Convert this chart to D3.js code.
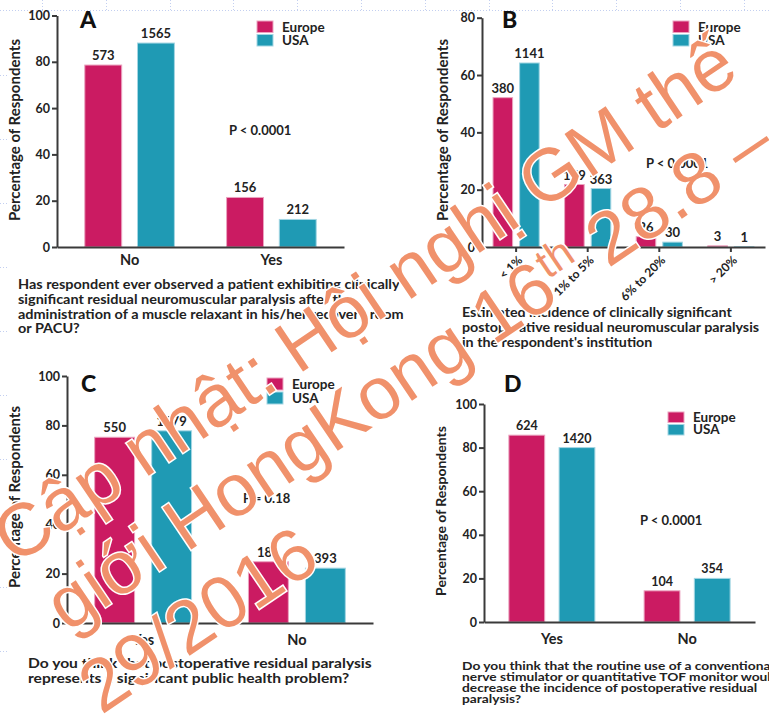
<!DOCTYPE html>
<html lang="en">
<head>
<meta charset="UTF-8">
<title>Residual neuromuscular paralysis survey</title>
<script src="https://d3js.org/d3.v7.min.js"></script>
<style>
  body { margin: 0; background: #ffffff; }
  svg text { font-family: Lato, "Open Sans", sans-serif; font-weight: bold; fill: #222; }
  .axis path, .axis line { stroke: #3a3a3a; stroke-width: 2; }
  .wm { font-family: "Liberation Sans", Arial, sans-serif; font-weight: normal; fill: #F0916B;
        stroke: #ffffff; stroke-width: 3; paint-order: stroke; }
</style>
</head>
<body>
<svg id="chart" width="769" height="715"></svg>
<script>
// data (percent of respondents, counts on top of bars)
const series = ["Europe", "USA"];
const colors = ["#CB1B62", "#1F9AB4"];
const edges = ["#EBA3BF", "#A3D6E3"];

const catsA = ["No", "Yes"];
const europeA = [78.6, 21.4];
const usaA = [88.1, 11.9];
const countsEuropeA = ["573", "156"];
const countsUsaA = ["1565", "212"];

const catsB = ["< 1%", "1% to 5%", "6% to 20%", "> 20%"];
const europeB = [52.1, 21.8, 3.6, 0.4];
const usaB = [64.2, 20.4, 1.7, 0.1];
const countsEuropeB = ["380", "159", "26", "3"];
const countsUsaB = ["1141", "363", "30", "1"];

const catsC = ["Yes", "No"];
const europeC = [75.2, 24.8];
const usaC = [77.8, 22.2];
const countsEuropeC = ["550", "181"];
const countsUsaC = ["1379", "393"];

const catsD = ["Yes", "No"];
const europeD = [85.7, 14.3];
const usaD = [80.0, 20.0];
const countsEuropeD = ["624", "104"];
const countsUsaD = ["1420", "354"];

const ticks100 = [0, 20, 40, 60, 80, 100];
const ticks80 = [0, 20, 40, 60, 80];

const captionA = ["Has respondent ever observed a patient exhibiting clinically",
  "significant residual neuromuscular paralysis after the",
  "administration of a muscle relaxant in his/her recovery room",
  "or PACU?"];
const captionB = ["Estimated incidence of clinically significant",
  "postoperative residual neuromuscular paralysis",
  "in the respondent's institution"];
const captionC = ["Do you think that postoperative residual paralysis",
  "represents a significant public health problem?"];
const captionD = ["Do you think that the routine use of a conventional",
  "nerve stimulator or quantitative TOF monitor would",
  "decrease the incidence of postoperative residual",
  "paralysis?"];

// watermark lines, split where the "th" is set as a superscript
const watermark = [
  [["Cập nhật: Hội nghị GM thế", false]],
  [["giới HongKong 16", false], ["th", true], [" 28.8 –", false]],
  [["29/2016", false]]
];

const svg = d3.select("#chart");

// faint slide guides in the background
const guides = svg.append("g").attr("stroke", "#C3CFF0").attr("stroke-width", 1).attr("stroke-dasharray", "1,2");
guides.append("line").attr("x1", 0).attr("x2", 769).attr("y1", 10.5).attr("y2", 10.5);
guides.selectAll(".gv").data(d3.range(42, 769, 63.8)).enter().append("line")
  .attr("x1", d => Math.round(d) + 0.5).attr("x2", d => Math.round(d) + 0.5).attr("y1", 0).attr("y2", 10);
guides.selectAll(".gh").data(d3.range(75, 715, 64)).enter().append("line")
  .attr("x1", 0).attr("x2", 8).attr("y1", d => d + 0.5).attr("y2", d => d + 0.5);

function panel(p) {
  const g = svg.append("g");
  const y = d3.scaleLinear().domain([0, p.ymax]).range([p.yb, p.yt]);
  const x0 = d3.scaleBand().domain(p.cats).range([p.xl, p.xr]).paddingInner(p.pi).paddingOuter(p.po);
  const x1 = d3.scaleBand().domain(series).range([0, x0.bandwidth()]).paddingInner(p.bi);

  const rows = p.cats.map((c, i) => ({
    cat: c,
    vals: [
      { s: 0, v: p.europe[i], n: p.nEurope[i] },
      { s: 1, v: p.usa[i], n: p.nUsa[i] }
    ]
  }));

  const grp = g.selectAll(".grp").data(rows).enter().append("g")
    .attr("transform", d => `translate(${x0(d.cat)},0)`);

  grp.selectAll("rect").data(d => d.vals).enter().append("rect")
    .attr("x", d => x1(series[d.s]))
    .attr("y", d => y(d.v))
    .attr("width", x1.bandwidth())
    .attr("height", d => y(0) - y(d.v))
    .attr("fill", d => colors[d.s])
    .attr("stroke", d => edges[d.s])
    .attr("stroke-width", 1);

  grp.selectAll(".n").data(d => d.vals).enter().append("text")
    .attr("x", d => x1(series[d.s]) + x1.bandwidth() / 2)
    .attr("y", d => y(d.v) - 5)
    .attr("text-anchor", "middle")
    .style("font-size", p.nSize + "px")
    .text(d => d.n);

  // y axis
  const ya = g.append("g").attr("class", "axis")
    .attr("transform", `translate(${p.xl},0)`)
    .call(d3.axisLeft(y).tickValues(p.ticks).tickSize(5).tickSizeOuter(0).tickPadding(2));
  ya.selectAll("text").style("font-size", "12.5px");
  ya.attr("font-family", null);

  // x axis
  const xa = g.append("g").attr("class", "axis")
    .attr("transform", `translate(0,${p.yb})`)
    .call(d3.axisBottom(x0).tickSize(p.rotate ? 5 : 0).tickSizeOuter(0));
  if (p.rotate) {
    xa.selectAll("text")
      .attr("y", 0).attr("dy", "0.35em")
      .attr("text-anchor", "end")
      .attr("transform", "translate(4,11) rotate(-45)")
      .style("font-size", "12px");
  } else {
    xa.selectAll("text").attr("y", p.xlabY).attr("dy", null).style("font-size", "14.5px");
  }
  xa.attr("font-family", null);

  // y title
  g.append("text")
    .attr("transform", `translate(${p.titleX},${p.titleY}) rotate(-90)`)
    .attr("text-anchor", "middle")
    .style("font-size", p.titleSize + "px")
    .text("Percentage of Respondents");

  // panel letter
  g.append("text").attr("x", p.letterX).attr("y", p.letterY)
    .style("font-size", "23px").style("font-weight", "900").style("fill", "#111")
    .text(p.letter);

  // legend
  const leg = g.selectAll(".leg").data(series).enter().append("g")
    .attr("transform", (d, i) => `translate(${p.legX},${p.legY + i * p.legStep})`);
  leg.append("rect").attr("width", 16).attr("height", p.legStep - 2)
    .attr("fill", (d, i) => colors[i]).attr("stroke", (d, i) => edges[i]);
  leg.append("text").attr("x", 25).attr("y", p.legStep - 3)
    .style("font-size", "13.5px").text(d => d);

  // p value
  g.append("text").attr("x", p.pX).attr("y", p.pY).style("font-size", "13px").text(p.pText);

  // caption, stretched sideways so the first line is as wide as on the slide
  const cap = g.append("text").style("font-size", p.capSize + "px");
  const spans = cap.selectAll("tspan").data(p.caption).enter().append("tspan")
    .attr("x", 0).attr("y", (d, i) => p.capY + i * p.capStep)
    .text(d => d);
  const sx = p.capW / spans.node().getComputedTextLength();
  cap.attr("transform", `translate(${p.capX},0) scale(${sx},1)`);
}

panel({
  cats: catsA, europe: europeA, usa: usaA, nEurope: countsEuropeA, nUsa: countsUsaA,
  ymax: 100, ticks: ticks100, xl: 57, xr: 344, yt: 15.5, yb: 247,
  pi: 0.368, po: 0.196, bi: 0.3, nSize: 13, xlabY: 18,
  titleX: 20, titleY: 130, titleSize: 15,
  letter: "A", letterX: 80, letterY: 28,
  legX: 257, legY: 21, legStep: 13.5,
  pText: "P < 0.0001", pX: 229, pY: 135,
  caption: captionA, capX: 18, capY: 289, capStep: 14.8, capSize: 12.5, capW: 382
});

panel({
  cats: catsB, europe: europeB, usa: usaB, nEurope: countsEuropeB, nUsa: countsUsaB,
  ymax: 80, ticks: ticks80, xl: 482, xr: 765, yt: 17.7, yb: 247,
  pi: 0.355, po: 0.154, bi: 0.264, nSize: 13, rotate: true,
  titleX: 448, titleY: 130, titleSize: 15,
  letter: "B", letterX: 502, letterY: 28,
  legX: 673, legY: 21, legStep: 13.5,
  pText: "P < 0.0001", pX: 646, pY: 168,
  caption: captionB, capX: 462, capY: 317, capStep: 15, capSize: 13, capW: 270
});

panel({
  cats: catsC, europe: europeC, usa: usaC, nEurope: countsEuropeC, nUsa: countsUsaC,
  ymax: 100, ticks: ticks100, xl: 67, xr: 373, yt: 376, yb: 623,
  pi: 0.37, po: 0.18, bi: 0.3, nSize: 13, xlabY: 22,
  titleX: 20, titleY: 497, titleSize: 15,
  letter: "C", letterX: 81, letterY: 392,
  legX: 267, legY: 378, legStep: 14,
  pText: "P = 0.18", pX: 243, pY: 503,
  caption: captionC, capX: 28, capY: 668, capStep: 15, capSize: 13, capW: 344
});

panel({
  cats: catsD, europe: europeD, usa: usaD, nEurope: countsEuropeD, nUsa: countsUsaD,
  ymax: 100, ticks: ticks100, xl: 484, xr: 755, yt: 404, yb: 622,
  pi: 0.364, po: 0.184, bi: 0.287, nSize: 12.5, xlabY: 22,
  titleX: 446, titleY: 511, titleSize: 14,
  letter: "D", letterX: 504, letterY: 392,
  legX: 668, legY: 412, legStep: 12.5,
  pText: "P < 0.0001", pX: 640, pY: 525,
  caption: captionD, capX: 462, capY: 670, capStep: 11, capSize: 11.5, capW: 312
});

// conference watermark laid over everything
const wmSize = 74;
const wmLines = svg.append("g")
  .attr("transform", "translate(15,566) rotate(-34)")
  .selectAll(".wm").data(watermark).enter().append("text")
  .attr("class", "wm")
  .attr("x", (d, i) => [0, 6, -12][i])
  .attr("y", (d, i) => [0, 85, 172][i])
  .style("font-size", wmSize + "px");
wmLines.selectAll("tspan").data(d => d).enter().append("tspan")
  .style("font-size", d => d[1] ? (wmSize * 0.58) + "px" : null)
  .attr("dy", (d, i, nodes) => {
    if (d[1]) return -wmSize * 0.33;
    const prev = i > 0 ? d3.select(nodes[i - 1]).datum() : null;
    return prev && prev[1] ? wmSize * 0.33 : null;
  })
  .text(d => d[0]);
</script>
</body>
</html>
